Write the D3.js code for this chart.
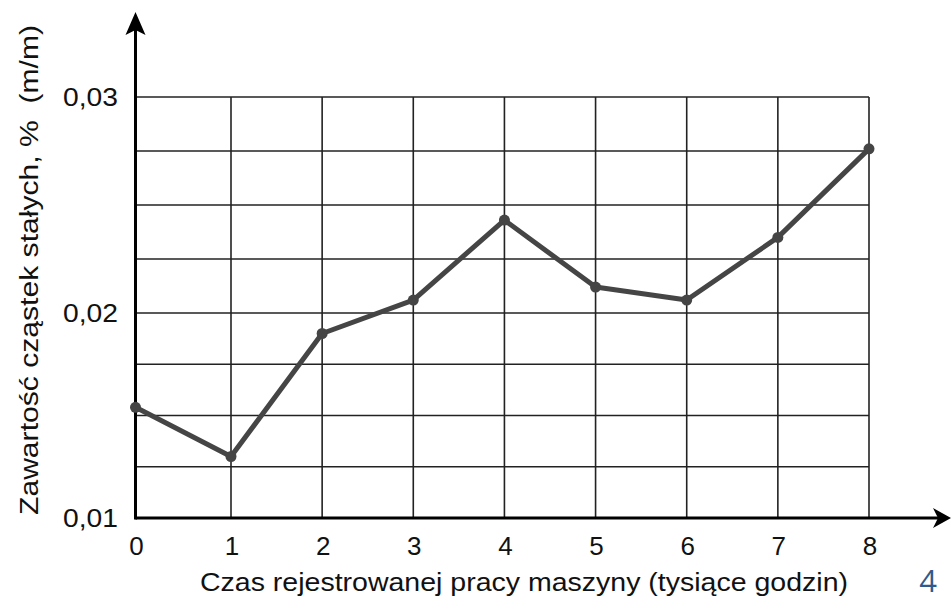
<!DOCTYPE html>
<html>
<head>
<meta charset="utf-8">
<script src="https://cdn.jsdelivr.net/npm/d3@7"></script>
<style>
body { margin: 0; background: #fff; }
text { font-family: "Liberation Sans", Arial, sans-serif; }
</style>
</head>
<body>
<div id="chart"></div>
<script>
// data
var hours = [0, 1, 2, 3, 4, 5, 6, 7, 8];
var solids = [0.0154, 0.0130, 0.0190, 0.0206, 0.0243, 0.0212, 0.0206, 0.0235, 0.0276];
var yTicks = [0.01, 0.02, 0.03];
var yTickLabels = ["0,01", "0,02", "0,03"];
var yGrid = [0.0125, 0.015, 0.0175, 0.02, 0.0225, 0.025, 0.0275, 0.03];
var xLabel = "Czas rejestrowanej pracy maszyny (tysiące godzin)";
var yLabel = "Zawartość cząstek stałych, %\u00a0\u00a0(m/m)";

var svg = d3.select("#chart")
    .append("svg")
    .attr("width", 951)
    .attr("height", 600);

// the original grid is hand drawn, so the scales are piecewise
var xScale = d3.scaleLinear().domain([0, 1, 8]).range([135.5, 231, 869]);
var yScale = d3.scaleLinear().domain([0.01, 0.02, 0.03]).range([518, 313, 97]);

// grid
svg.append("g")
    .selectAll("line")
    .data(yGrid)
    .enter()
    .append("line")
    .attr("x1", xScale(0))
    .attr("x2", xScale(8))
    .attr("y1", function(d) { return yScale(d); })
    .attr("y2", function(d) { return yScale(d); })
    .style("stroke", "#222")
    .style("stroke-width", 1.6);

svg.append("g")
    .selectAll("line")
    .data(hours.slice(1))
    .enter()
    .append("line")
    .attr("x1", function(d) { return xScale(d); })
    .attr("x2", function(d) { return xScale(d); })
    .attr("y1", yScale(0.01))
    .attr("y2", yScale(0.03))
    .style("stroke", "#222")
    .style("stroke-width", 1.6);

// axes with arrows
var x0 = xScale(0), y0 = yScale(0.01);
svg.append("line")
    .attr("x1", x0).attr("y1", y0)
    .attr("x2", 940).attr("y2", y0)
    .style("stroke", "#000").style("stroke-width", 3);
svg.append("line")
    .attr("x1", x0).attr("y1", y0 + 1.5)
    .attr("x2", x0).attr("y2", 25)
    .style("stroke", "#000").style("stroke-width", 3);

svg.append("path")
    .attr("d", "M951," + y0 + " L933," + (y0 - 10) + " L938," + y0 + " L933," + (y0 + 10) + " Z")
    .style("fill", "#000");
svg.append("path")
    .attr("d", "M" + x0 + ",12 L" + (x0 - 10) + ",35 L" + x0 + ",30 L" + (x0 + 10) + ",35 Z")
    .style("fill", "#000");

// tick labels
svg.append("g")
    .selectAll("text")
    .data(hours)
    .enter()
    .append("text")
    .attr("x", function(d) { return xScale(d) + 1; })
    .attr("y", 555)
    .attr("text-anchor", "middle")
    .style("font-size", "26px")
    .style("fill", "#111")
    .text(function(d) { return d; });

svg.append("g")
    .selectAll("text")
    .data(yTicks)
    .enter()
    .append("text")
    .attr("x", 118)
    .attr("y", function(d) { return yScale(d); })
    .attr("dy", "0.36em")
    .attr("text-anchor", "end")
    .attr("textLength", 55)
    .attr("lengthAdjust", "spacingAndGlyphs")
    .style("font-size", "26px")
    .style("fill", "#111")
    .text(function(d, i) { return yTickLabels[i]; });

// axis titles (the original lettering is a little wider than Arial)
svg.append("text")
    .attr("x", 524)
    .attr("y", 591)
    .attr("text-anchor", "middle")
    .attr("textLength", 648)
    .attr("lengthAdjust", "spacingAndGlyphs")
    .style("font-size", "26px")
    .style("fill", "#111")
    .text(xLabel);

svg.append("text")
    .attr("text-anchor", "middle")
    .attr("transform", "translate(38,270)rotate(-90)")
    .attr("textLength", 490)
    .attr("lengthAdjust", "spacingAndGlyphs")
    .style("font-size", "26px")
    .style("fill", "#111")
    .text(yLabel);

// page number
svg.append("text")
    .attr("x", 928)
    .attr("y", 592)
    .attr("text-anchor", "middle")
    .style("font-family", "'Open Sans', sans-serif")
    .style("font-size", "31px")
    .style("fill", "#2f5b8c")
    .text("4");

// series
var line = d3.line()
    .x(function(d, i) { return xScale(hours[i]); })
    .y(function(d) { return yScale(d); });

svg.append("path")
    .datum(solids)
    .attr("d", line)
    .style("fill", "none")
    .style("stroke", "#454545")
    .style("stroke-width", 5)
    .style("stroke-linejoin", "round");

svg.append("g")
    .selectAll("circle")
    .data(solids)
    .enter()
    .append("circle")
    .attr("cx", function(d, i) { return xScale(hours[i]); })
    .attr("cy", function(d) { return yScale(d); })
    .attr("r", 5.5)
    .style("fill", "#454545");
</script>
</body>
</html>
